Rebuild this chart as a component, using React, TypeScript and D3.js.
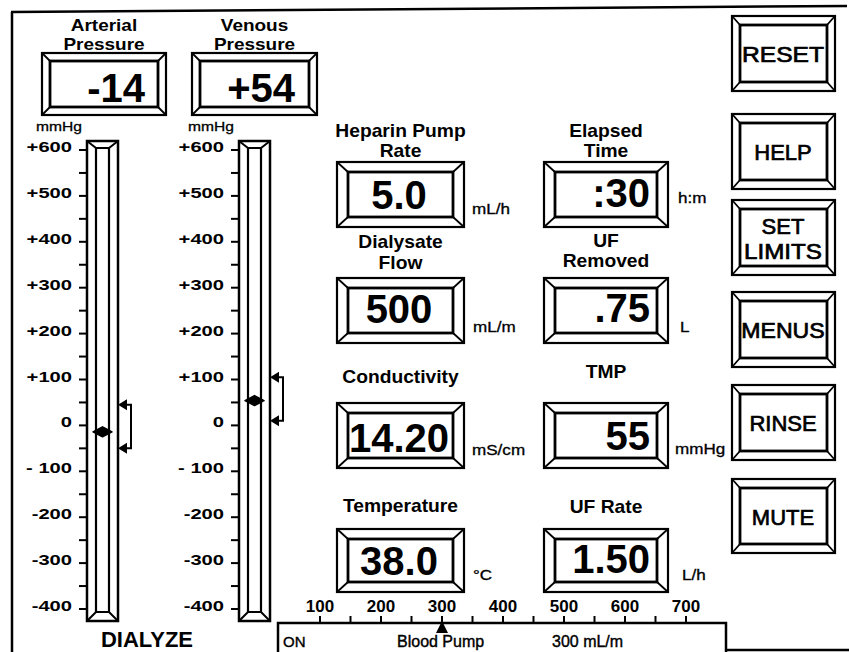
import React from "react";
import * as d3 from "d3";

// ---- data ----
const gaugeTitles = ["Arterial", "Venous"];
const gaugeValues = [-14, 54];
const gaugeValueText = ["-14", "+54"];
const gaugeLimitHigh = [45, 105];
const gaugeLimitLow = [-50, 10];
const pressureTicks = [600, 500, 400, 300, 200, 100, 0, -100, -200, -300, -400];
const pressureTickLabels = ["+600", "+500", "+400", "+300", "+200", "+100", "0", "- 100", "-200", "-300", "-400"];

const panelTitles = [
  ["Heparin Pump", "Rate"],
  ["Elapsed", "Time"],
  ["Dialysate", "Flow"],
  ["UF", "Removed"],
  ["Conductivity"],
  ["TMP"],
  ["Temperature"],
  ["UF  Rate"],
];
const panelValues = ["5.0", ":30", "500", ".75", "14.20", "55", "38.0", "1.50"];
const panelUnits = ["mL/h", "h:m", "mL/m", "L", "mS/cm", "mmHg", "°C", "L/h"];

const buttonLabels = [["RESET"], ["HELP"], ["SET", "LIMITS"], ["MENUS"], ["RINSE"], ["MUTE"]];

const pumpTicks = [100, 200, 300, 400, 500, 600, 700];
const pumpRate = 300;
const pumpStatus = "ON";
const pumpLabel = "Blood Pump";
const pumpRateText = "300 mL/m";
const modeLabel = "DIALYZE";

// ---- layout / style ----
const FONT = "'Liberation Sans', Arial, Helvetica, sans-serif";

const T = ({ x, y, s, anchor = "middle", w = "bold", sx = 1, sw = 0, children }: any) => (
  <text
    transform={`translate(${x},${y}) scale(${sx},1)`}
    fontSize={s}
    fontWeight={w}
    textAnchor={anchor}
    fontFamily={FONT}
    fill="#000"
    stroke={sw ? "#000" : "none"}
    strokeWidth={sw}
  >
    {children}
  </text>
);

const Bevel = ({ x0, y0, x1, y1, gx, gy }: any) => (
  <g fill="none" stroke="#000">
    <rect x={x0} y={y0} width={x1 - x0} height={y1 - y0} strokeWidth={2.2} />
    <rect x={x0 + gx} y={y0 + gy} width={x1 - x0 - 2 * gx} height={y1 - y0 - 2 * gy} strokeWidth={2.8} />
    <line x1={x0} y1={y0} x2={x0 + gx} y2={y0 + gy} strokeWidth={1.8} />
    <line x1={x1} y1={y0} x2={x1 - gx} y2={y0 + gy} strokeWidth={1.8} />
    <line x1={x0} y1={y1} x2={x0 + gx} y2={y1 - gy} strokeWidth={1.8} />
    <line x1={x1} y1={y1} x2={x1 - gx} y2={y1 - gy} strokeWidth={1.8} />
  </g>
);

export default function App() {
  const yP = d3.scaleLinear().domain([-400, 600]).range([609, 150]);
  const minorP = d3.range(-400, 601, 50);
  const xPump = d3.scaleLinear().domain([100, 700]).range([320, 686]);
  const minorPump = d3.range(100, 701, 50);

  const gaugeBarX = [87, 239];
  const gaugeBoxX = [
    [42, 166],
    [192, 317],
  ];
  const gaugeValueEnd = [145, 295];

  const colBox = [
    [337, 464],
    [544, 668],
  ];
  const rowBox = [
    [162, 227],
    [278, 343],
    [403, 468],
    [529, 592],
  ];
  const titleBase = [
    [137, 157],
    [137, 157],
    [248, 269],
    [247, 267],
    [383],
    [378],
    [512],
    [513],
  ];
  const valueBase = [209, 207, 323, 322, 452, 450, 575, 573];
  const unitPos = [
    [472, 214],
    [678, 203],
    [473, 332],
    [680, 332],
    [472, 455],
    [675, 454],
    [473, 580],
    [682, 580],
  ];

  const btnY = [
    [16, 91],
    [114, 189],
    [200, 275],
    [292, 367],
    [385, 460],
    [479, 553],
  ];
  const btnStretch = [1.12, 1, 1.1, 1.05, 1, 1];

  return (
    <svg
      width={849}
      height={652}
      style={{ position: "absolute", left: 0, top: 0, background: "#fff" }}
    >
      <rect x={0} y={0} width={849} height={652} fill="#fff" />
      {/* outer frame */}
      <g stroke="#000" strokeWidth={2.5}>
        <line x1={12} y1={12} x2={12} y2={652} />
        <line x1={11} y1={12} x2={847} y2={6} />
        <line x1={726} y1={650} x2={849} y2={650} />
      </g>

      {/* pressure gauges */}
      {gaugeTitles.map((title, i) => {
        const bx = gaugeBarX[i];
        const bw = 31;
        const [b0, b1] = gaugeBoxX[i];
        const cx = (b0 + b1) / 2;
        const top = 141;
        const bot = 621;
        const g = 9;
        const vy = yP(gaugeValues[i]);
        const yh = yP(gaugeLimitHigh[i]);
        const yl = yP(gaugeLimitLow[i]);
        const bracketX = bx + bw + 13;
        return (
          <g key={title}>
            <T x={cx} y={31} s={16.5} sx={1.15}>{title}</T>
            <T x={cx} y={50} s={16.5} sx={1.15}>Pressure</T>
            <Bevel x0={b0} y0={53} x1={b1} y1={115} gx={8} gy={8} />
            <T x={gaugeValueEnd[i]} y={102} s={40} anchor="end">
              {gaugeValueText[i]}
            </T>
            <T x={bx - 28} y={131} s={13} w="normal" sx={1.2} sw={0.3}>mmHg</T>
            {/* ticks */}
            <g stroke="#000" strokeWidth={2}>
              {minorP.map((v) => (
                <line key={v} x1={bx - 8} x2={bx} y1={yP(v)} y2={yP(v)} />
              ))}
            </g>
            {pressureTicks.map((v, k) => (
              <T key={v} x={bx - 15} y={yP(v) + 2} s={15.5} anchor="end" sx={1.3}>
                {pressureTickLabels[k]}
              </T>
            ))}
            {/* bar */}
            <g fill="none" stroke="#000">
              <rect x={bx} y={top} width={bw} height={bot - top} strokeWidth={2.5} />
              <line x1={bx + g} x2={bx + g} y1={top + 7} y2={bot - 9} strokeWidth={2.2} />
              <line x1={bx + bw - g} x2={bx + bw - g} y1={top + 7} y2={bot - 9} strokeWidth={2.2} />
              <path
                d={`M${bx},${top} L${bx + g},${top + 7} L${bx + bw - g},${top + 7} L${bx + bw},${top}`}
                strokeWidth={2}
              />
              <path
                d={`M${bx},${bot} L${bx + g},${bot - 9} L${bx + bw - g},${bot - 9} L${bx + bw},${bot}`}
                strokeWidth={2}
              />
            </g>
            {/* value marker */}
            <path
              d={`M${bx + 6},${vy} L${bx + bw / 2},${vy - 5} L${bx + bw - 6},${vy} L${bx + bw / 2},${vy + 5} Z`}
              fill="#000"
              stroke="#000"
              strokeWidth={1.5}
              strokeLinejoin="round"
            />
            {/* limit bracket */}
            <g stroke="#000" strokeWidth={2} fill="none">
              <path d={`M${bx + bw + 6},${yh} H${bracketX} V${yl} H${bx + bw + 6}`} />
            </g>
            <path d={`M${bx + bw},${yh} l9,-5.5 l0,11 Z`} fill="#000" />
            <path d={`M${bx + bw},${yl} l9,-5.5 l0,11 Z`} fill="#000" />
          </g>
        );
      })}
      <T x={147} y={647} s={22}>{modeLabel}</T>

      {/* parameter panels */}
      {panelTitles.map((lines, i) => {
        const col = i % 2;
        const row = Math.floor(i / 2);
        const [x0, x1] = colBox[col];
        const [y0, y1] = rowBox[row];
        const cx = (x0 + x1) / 2;
        return (
          <g key={i}>
            {lines.map((ln, k) => (
              <T key={k} x={cx} y={titleBase[i][k]} s={17.5} sx={1.1}>
                {ln}
              </T>
            ))}
            <Bevel x0={x0} y0={y0} x1={x1} y1={y1} gx={11} gy={10} />
            {col === 0 ? (
              <T x={399} y={valueBase[i]} s={40}>
                {panelValues[i]}
              </T>
            ) : (
              <T x={650} y={valueBase[i]} s={40} anchor="end">
                {panelValues[i]}
              </T>
            )}
            <T x={unitPos[i][0]} y={unitPos[i][1]} s={14} w="normal" anchor="start" sx={1.22} sw={0.3}>
              {panelUnits[i]}
            </T>
          </g>
        );
      })}

      {/* buttons */}
      {buttonLabels.map((lines, i) => {
        const [y0, y1] = btnY[i];
        const cy = (y0 + y1) / 2;
        return (
          <g key={i}>
            <Bevel x0={732} y0={y0} x1={835} y1={y1} gx={8} gy={9} />
            {lines.length === 1 ? (
              <T x={783} y={cy + 8.5} s={22} w="normal" sx={btnStretch[i]} sw={0.7}>
                {lines[0]}
              </T>
            ) : (
              <>
                <T x={783} y={cy - 4} s={22} w="normal" sw={0.7}>{lines[0]}</T>
                <T x={783} y={cy + 21} s={22} w="normal" sx={btnStretch[i]} sw={0.7}>{lines[1]}</T>
              </>
            )}
          </g>
        );
      })}

      {/* blood pump scale */}
      <path d="M278,652 V623 H726 V652" fill="none" stroke="#000" strokeWidth={2.5} />
      <g stroke="#000" strokeWidth={2}>
        {minorPump.map((v) => (
          <line key={v} x1={xPump(v)} x2={xPump(v)} y1={616} y2={623} />
        ))}
      </g>
      {pumpTicks.map((v) => (
        <T key={v} x={xPump(v)} y={612} s={17}>
          {v}
        </T>
      ))}
      <path d={`M${xPump(pumpRate)},621 l-6,12 h12 Z`} fill="#000" />
      <T x={283} y={647} s={15} w="normal" anchor="start" sw={0.4}>{pumpStatus}</T>
      <T x={397} y={647} s={16} w="normal" anchor="start" sw={0.4}>{pumpLabel}</T>
      <T x={552} y={647} s={16} w="normal" anchor="start" sw={0.4}>{pumpRateText}</T>
    </svg>
  );
}
